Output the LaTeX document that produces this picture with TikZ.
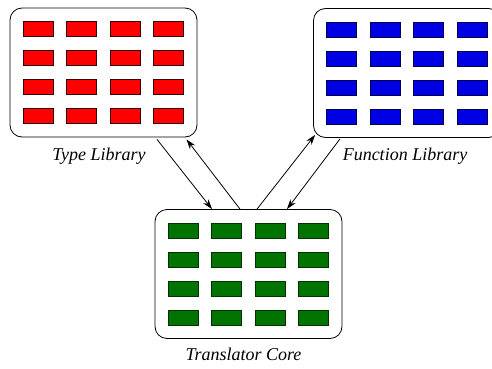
\documentclass[tikz,border=0pt]{standalone}
\usepackage{fontspec}
\setmainfont{Liberation Serif}
\usetikzlibrary{positioning,arrows.meta}

\begin{document}
\begin{tikzpicture}[x=1pt, y=1pt, line width=0.8pt]

    % Styles
    \tikzstyle{library} = [draw=black, fill=white, rounded corners=12pt, minimum width=187pt, minimum height=129pt, inner sep=0pt]
    \tikzstyle{redcell} = [draw=black!80!red, fill=red, line width=0.6pt, minimum width=30pt, minimum height=15pt, inner sep=0pt]
    \tikzstyle{bluecell} = [draw=black!70!blue, fill=blue!90!black, line width=0.6pt, minimum width=30pt, minimum height=15pt, inner sep=0pt]
    \tikzstyle{greencell} = [draw=black!80!green, fill=green!45!black, line width=0.6pt, minimum width=30pt, minimum height=15pt, inner sep=0pt]
    \tikzstyle{caption} = [font=\itshape\fontsize{18}{20}\selectfont, inner sep=0pt]
    \tikzstyle{connection} = [-{Stealth[length=10pt, width=6.5pt]}, line width=0.8pt]

    \useasboundingbox (0,0) rectangle (492,368);

    % Boxes
    \node[library] (TL) at (103.5,295.5) {};
    \node[library] (FL) at (407,295) {};
    \node[library] (CR) at (248.5,94) {};

    % Captions
    \node[caption, below=10pt of TL, xshift=-4.5pt] (TLcap) {Type Library};
    \node[caption, below=10pt of FL, xshift=-2pt] (FLcap) {Function Library};
    \node[caption, below=9pt of CR, xshift=-5pt] (CRcap) {Translator Core};

    % Type Library cells
    \foreach \i in {1,2,3,4}
        \foreach \j in {1,2,3,4}
            \node[redcell] (T\i\j) at ({103.5+(\i-2.5)*43.5},{295.5-(\j-2.5)*29}) {};

    % Function Library cells
    \foreach \i in {1,2,3,4}
        \foreach \j in {1,2,3,4}
            \node[bluecell] (F\i\j) at ({407+(\i-2.5)*43.5},{295-(\j-2.5)*29}) {};

    % Translator Core cells
    \foreach \i in {1,2,3,4}
        \foreach \j in {1,2,3,4}
            \node[greencell] (C\i\j) at ({248.5+(\i-2.5)*43.5},{94-(\j-2.5)*29}) {};

    % Connection points
    \coordinate (TLout) at ([xshift=53.5pt,yshift=-2pt]TL.south);
    \coordinate (TLin) at ([xshift=83pt,yshift=-2pt]TL.south);
    \coordinate (FLout) at ([xshift=-67pt,yshift=-1pt]FL.south);
    \coordinate (FLin) at ([xshift=2pt,yshift=3pt]FL.south west);
    \coordinate (CRin1) at ([xshift=-36.5pt]CR.north);
    \coordinate (CRout1) at ([xshift=-8.5pt]CR.north);
    \coordinate (CRout2) at ([xshift=8.5pt]CR.north);
    \coordinate (CRin2) at ([xshift=38.5pt]CR.north);

    % Connections
    \draw[connection] (TLout) -- (CRin1);
    \draw[connection] (CRout1) -- (TLin);
    \draw[connection] (CRout2) -- (FLin);
    \draw[connection] (FLout) -- (CRin2);

\end{tikzpicture}
\end{document}
